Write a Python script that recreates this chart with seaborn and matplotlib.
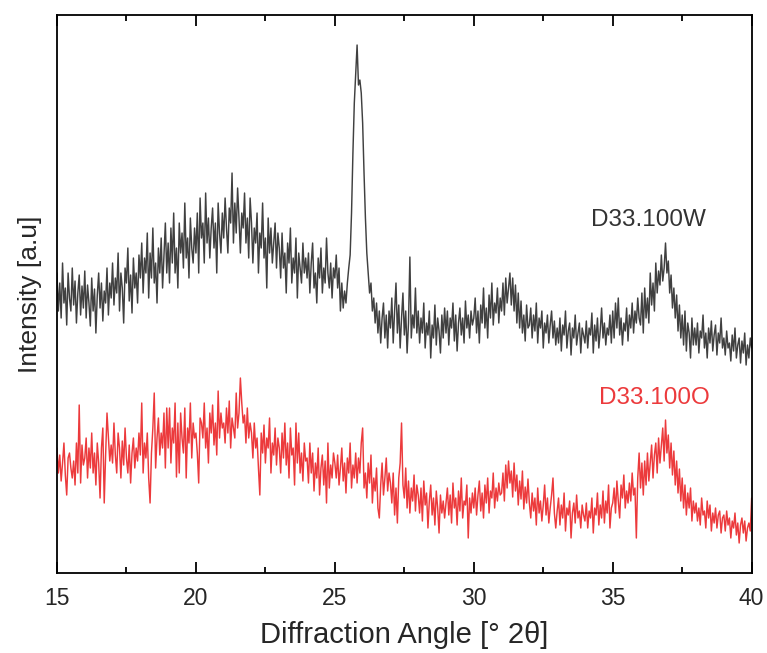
import numpy as np
import pandas as pd
import seaborn as sns
import matplotlib
matplotlib.use("Agg")
import matplotlib.pyplot as plt
from matplotlib.ticker import MultipleLocator

# 2-theta grid: 15.00 .. 40.00 in 0.05 steps (501 points)
two_theta = [round(15 + 0.05 * i, 2) for i in range(501)]

# D33.100W intensities (a.u., offset trace), one row per degree
d33_100w = [
    300, 262, 290, 255, 310, 270, 285, 248, 300, 275, 262, 305, 268, 292, 250, 280, 298, 258, 287, 265,
    302, 255, 288, 270, 247, 295, 262, 284, 240, 278, 300, 265, 290, 252, 282, 270, 305, 258, 290, 275,
    310, 268, 295, 280, 320, 262, 300, 285, 250, 305, 290, 325, 272, 298, 260, 315, 285, 300, 270, 318,
    295, 330, 280, 315, 300, 340, 275, 320, 295, 345, 290, 310, 270, 325, 300, 335, 285, 318, 350, 300,
    330, 290, 345, 310, 360, 300, 325, 285, 350, 320, 340, 305, 370, 315, 335, 295, 355, 325, 310, 345,
    320, 360, 300, 375, 335, 350, 310, 380, 330, 355, 315, 345, 365, 325, 350, 300, 370, 340, 320, 360,
    335, 375, 345, 320, 365, 350, 400, 330, 370, 340, 385, 355, 320, 360, 345, 380, 330, 355, 315, 375,
    350, 310, 345, 330, 360, 300, 340, 325, 370, 315, 335, 285, 355, 320, 345, 310, 330, 350, 305, 340,
    325, 295, 340, 305, 320, 280, 330, 310, 345, 290, 315, 300, 335, 275, 320, 305, 290, 330, 300, 315,
    295, 320, 280, 310, 330, 285, 300, 270, 315, 295, 325, 280, 305, 290, 335, 300, 285, 310, 275, 305,
    295, 318, 285, 305, 262, 290, 265, 282, 270, 290, 305, 318, 360, 420, 470, 500, 528, 488, 493, 480,
    450, 400, 355, 320, 300, 280, 290, 262, 275, 250, 270, 240, 262, 230, 255, 270, 235, 258, 225, 262,
    245, 275, 230, 262, 290, 240, 268, 225, 255, 280, 238, 262, 220, 250, 316, 235, 258, 245, 285, 240,
    262, 230, 255, 240, 270, 225, 250, 238, 262, 215, 248, 235, 268, 228, 255, 242, 220, 258, 235, 265,
    240, 262, 228, 255, 245, 270, 232, 258, 222, 250, 265, 238, 255, 230, 272, 245, 258, 235, 262, 248,
    255, 275, 240, 262, 230, 268, 250, 285, 245, 265, 235, 278, 255, 290, 248, 270, 260, 285, 250, 275,
    262, 290, 258, 295, 270, 285, 300, 268, 295, 262, 288, 250, 280, 245, 272, 240, 258, 232, 268, 245,
    248, 265, 235, 258, 242, 270, 230, 255, 245, 262, 225, 250, 240, 258, 230, 248, 262, 235, 252, 228,
    245, 230, 255, 222, 248, 238, 262, 225, 242, 250, 218, 245, 235, 258, 228, 240, 250, 220, 245, 238,
    230, 252, 225, 245, 238, 260, 220, 248, 232, 255, 225, 242, 265, 235, 250, 228, 245, 238, 258, 230,
    262, 235, 270, 245, 275, 238, 255, 228, 250, 242, 265, 232, 258, 245, 270, 240, 262, 250, 275, 255,
    248, 280, 240, 285, 255, 275, 250, 300, 268, 290, 262, 310, 280, 302, 288, 318, 292, 305, 330, 300,
    312, 280, 298, 265, 285, 255, 278, 242, 268, 235, 258, 228, 262, 222, 250, 240, 215, 255, 228, 245,
    228, 250, 220, 242, 235, 258, 225, 240, 215, 245, 230, 252, 222, 238, 248, 218, 240, 230, 255, 225,
    235, 218, 242, 225, 230, 212, 238, 222, 245, 215, 228, 235, 210, 232, 220, 240, 208, 228, 215, 235,
    225,
]

# D33.100O intensities (a.u.)
d33_100o = [
    125, 100, 118, 92, 110, 130, 98, 78, 115, 120, 105, 95, 112, 88, 130, 100, 168, 90, 128, 108,
    115, 135, 95, 125, 105, 140, 100, 120, 88, 130, 110, 75, 125, 145, 70, 118, 160, 135, 112, 128,
    110, 150, 118, 100, 140, 125, 95, 132, 108, 145, 115, 100, 128, 90, 120, 135, 105, 125, 112, 140,
    118, 170, 100, 130, 115, 140, 95, 70, 120, 145, 180, 105, 135, 155, 118, 140, 125, 160, 105, 165,
    125, 165, 110, 145, 130, 170, 96, 150, 100, 160, 135, 120, 165, 95, 145, 130, 170, 115, 150, 135,
    140, 120, 90, 155, 150, 135, 170, 125, 145, 110, 160, 140, 168, 128, 150, 118, 182, 135, 160, 145,
    150, 130, 165, 140, 172, 125, 155, 145, 135, 180, 145, 160, 195, 170, 150, 158, 130, 165, 135, 150,
    140, 115, 150, 125, 135, 105, 78, 140, 120, 148, 110, 135, 125, 155, 100, 130, 118, 145, 108, 135,
    125, 100, 140, 115, 150, 108, 130, 95, 145, 118, 125, 88, 150, 110, 140, 100, 120, 92, 130, 112,
    115, 90, 130, 100, 120, 82, 110, 95, 125, 78, 105, 118, 88, 112, 70, 130, 85, 108, 95, 120,
    110, 95, 118, 88, 105, 125, 92, 110, 80, 115, 100, 130, 85, 108, 95, 120, 90, 115, 100, 130,
    145, 85, 100, 75, 110, 90, 118, 70, 95, 82, 105, 65, 55, 88, 110, 78, 95, 115, 82, 100,
    90, 70, 100, 58, 85, 50, 95, 110, 150, 88, 75, 105, 65, 92, 60, 85, 72, 98, 62, 88,
    78, 60, 85, 52, 92, 68, 80, 45, 72, 88, 58, 75, 48, 82, 65, 40, 78, 60, 72, 55,
    70, 85, 58, 78, 50, 90, 65, 75, 48, 82, 62, 95, 55, 72, 68, 88, 35, 75, 60, 80,
    65, 85, 58, 78, 92, 62, 80, 55, 88, 70, 95, 60, 82, 75, 100, 65, 85, 72, 90, 78,
    80, 100, 72, 108, 85, 112, 90, 102, 76, 110, 82, 98, 68, 92, 74, 102, 64, 86, 70, 94,
    70, 55, 80, 62, 75, 48, 85, 60, 72, 52, 68, 88, 58, 75, 50, 65, 78, 95, 60, 45,
    62, 75, 48, 68, 55, 80, 42, 65, 58, 72, 35, 60, 70, 50, 78, 55, 62, 45, 68, 58,
    52, 70, 45, 62, 55, 75, 40, 65, 58, 80, 48, 68, 55, 82, 50, 72, 60, 88, 45, 65,
    70, 85, 60, 92, 72, 55, 88, 75, 98, 65, 82, 70, 90, 72, 100, 78, 85, 35, 95, 120,
    85, 110, 78, 112, 88, 120, 92, 110, 128, 95, 118, 130, 100, 135, 110, 128, 145, 112, 153, 120,
    138, 105, 130, 98, 122, 88, 112, 80, 104, 72, 95, 65, 88, 58, 80, 65, 85, 52, 72, 60,
    70, 52, 65, 48, 75, 58, 62, 45, 72, 55, 68, 42, 60, 50, 65, 45, 58, 62, 40, 55,
    58, 42, 62, 48, 55, 35, 52, 45, 60, 38, 50, 30, 48, 55, 40, 52, 32, 45, 50, 42,
    75,
]

sample_names = ["D33.100W", "D33.100O"]
colors = {"D33.100W": "#404040", "D33.100O": "#ec3a3c"}

df = pd.DataFrame({
    "two_theta": two_theta * 2,
    "intensity": d33_100w + d33_100o,
    "sample": [sample_names[0]] * len(d33_100w) + [sample_names[1]] * len(d33_100o),
})

sns.set_style("ticks")
plt.rcParams["font.family"] = ["Liberation Sans", "DejaVu Sans"]

fig = plt.figure(figsize=(7.67, 6.53), dpi=100)
ax = fig.add_axes([0.0743, 0.1225, 0.9057, 0.8545])

sns.lineplot(data=df, x="two_theta", y="intensity", hue="sample",
             palette=colors, linewidth=1.05, ax=ax, legend=False,
             estimator=None, sort=False)

ax.set_xlim(15, 40)
ax.set_ylim(0, 558)
ax.xaxis.set_major_locator(MultipleLocator(5))
ax.xaxis.set_minor_locator(MultipleLocator(2.5))
ax.set_yticks([])
ax.tick_params(axis="x", which="both", direction="in", top=True, bottom=True,
               labelsize=16.5, pad=10, width=1.3, colors="black", labelcolor="#262626")
ax.tick_params(axis="x", which="major", length=8)
ax.tick_params(axis="x", which="minor", length=4)
for s in ax.spines.values():
    s.set_linewidth(1.3)
    s.set_color("black")

ax.set_xlabel("Diffraction Angle [° 2θ]", fontsize=21, labelpad=8, color="#262626")
ax.set_ylabel("Intensity [a.u]", fontsize=19, color="#262626")
ax.yaxis.set_label_coords(-0.022, 0.5)

ax.text(36.3, 353, "D33.100W", color="#333333", fontsize=17.5, ha="center", va="center")
ax.text(36.5, 175, "D33.100O", color="#ec3a3c", fontsize=17.5, ha="center", va="center")

fig.savefig("out.png", dpi=100)
